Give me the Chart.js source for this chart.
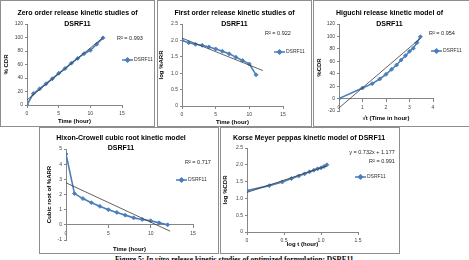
<!DOCTYPE html>
<html>
<head>
<meta charset="utf-8">
<script src="https://cdn.jsdelivr.net/npm/chart.js@4.4.0/dist/chart.umd.min.js"></script>
<style>
  body { margin: 0; width: 469px; height: 260px; overflow: hidden; background: #fff; position: relative; }
  .panel { position: absolute; border: 1px solid #8e8e8e; background: #fff; }
  .panel canvas { display: block; }
  #caption { position: absolute; left: 115px; top: 255px; white-space: nowrap;
             font: bold 7.5px "Liberation Serif", serif; color: #000; }
</style>
</head>
<body>
<div class="panel" style="left:0;top:0"><canvas id="zero" width="153" height="125"></canvas></div>
<div class="panel" style="left:157px;top:0"><canvas id="first" width="153" height="125"></canvas></div>
<div class="panel" style="left:313px;top:0"><canvas id="higuchi" width="155" height="125"></canvas></div>
<div class="panel" style="left:39px;top:127px"><canvas id="hixson" width="178" height="125"></canvas></div>
<div class="panel" style="left:220px;top:127px"><canvas id="korse" width="178" height="125"></canvas></div>
<div id="caption">Figure 5: <i>In vitro</i> release kinetic studies of optimized formulation: DSRF11</div>

<script>
// Data
const seriesName = 'DSRF11';

const hours = [0, 1, 2, 3, 4, 5, 6, 7, 8, 9, 10, 11, 12];
const zeroCdr = [0, 17, 24, 31.5, 39, 47, 54, 62, 69, 76, 81, 90, 99.5];
const zeroTrendX = [0, 12];
const zeroTrendY = [7.5, 100];

const firstHours = [0, 1, 2, 3, 4, 5, 6, 7, 8, 9, 10, 11];
const firstLogArr = [2.0, 1.93, 1.88, 1.85, 1.80, 1.74, 1.67, 1.59, 1.49, 1.39, 1.28, 0.95];
const firstTrendX = [0, 12];
const firstTrendY = [2.07, 1.08];

const rootHours = [0, 1, 1.414, 1.732, 2, 2.236, 2.449, 2.646, 2.828, 3, 3.162, 3.317, 3.464];
const higuchiCdr = [0, 17, 24, 31.5, 39, 47, 54, 62, 69, 76, 81, 90, 99.5];
const higuchiTrendX = [0, 3.464];
const higuchiTrendY = [-15, 97];

const hixsonCubeRoot = [4.67, 2.06, 1.73, 1.46, 1.22, 1.0, 0.82, 0.64, 0.46, 0.35, 0.27, 0.13, 0];
const hixsonTrendX = [0, 12.3];
const hixsonTrendY = [2.77, -0.42];

const logHours = [0, 0.301, 0.477, 0.602, 0.699, 0.778, 0.845, 0.903, 0.954, 1.0, 1.041, 1.079];
const logCdr = [1.23, 1.38, 1.49, 1.59, 1.67, 1.73, 1.79, 1.84, 1.88, 1.91, 1.95, 2.0];
const korseTrendX = [0, 1.079];
const korseTrendY = [1.177, 1.967];

// Tick labels
const hourTicks = [0, 5, 10, 15];
const rootTicks = [0, 1, 2, 3, 4];
const logTimeTicks = [0, 0.5, 1, 1.5];
const cdrTicks = [0, 20, 40, 60, 80, 100, 120];
const cdrTicksNeg = [-20, 0, 20, 40, 60, 80, 100, 120];
const logTicks = [0, 0.5, 1, 1.5, 2, 2.5];
const cubeTicks = [-1, 0, 1, 2, 3, 4, 5];

// Styling
const BLUE = '#4a7ebb';
const NARROW = '"Liberation Sans Narrow", "Liberation Sans", Arial, sans-serif';
const TICK_FONT = { family: NARROW, size: 5 };
const AXIS_TITLE_FONT = { family: NARROW, size: 6, weight: 'bold', lineHeight: '7px' };

const toPoints = (xs, ys) => xs.map((x, i) => ({ x: x, y: ys[i] }));
const fixTicks = values => scale => { scale.ticks = values.map(v => ({ value: v })); };

// R² / equation text and the little legend on the right
const notesPlugin = {
    id: 'notes',
    afterDraw(chart, args, opts) {
        const ctx = chart.ctx;
        ctx.save();
        ctx.fillStyle = '#222';
        ctx.textBaseline = 'middle';
        ctx.font = '5.5px ' + NARROW;
        (opts.texts || []).forEach(t => {
            ctx.textAlign = t.align || 'left';
            ctx.fillText(t.text, t.x, t.y);
        });
        const lg = opts.legend;
        if (lg) {
            ctx.strokeStyle = BLUE;
            ctx.lineWidth = 1.5;
            ctx.beginPath();
            ctx.moveTo(lg.x, lg.y);
            ctx.lineTo(lg.x + 11, lg.y);
            ctx.stroke();
            ctx.fillStyle = BLUE;
            Chart.helpers.drawPoint(ctx, { pointStyle: 'rectRot', radius: 2, borderWidth: 1 }, lg.x + 5.5, lg.y);
            ctx.fillStyle = '#333';
            ctx.textAlign = 'left';
            ctx.font = '5px ' + NARROW;
            ctx.fillText(chart.data.datasets[1].label, lg.x + 12, lg.y);
        }
        ctx.restore();
    }
};

function makeChart(id, cfg) {
    const canvas = document.getElementById(id);
    const W = canvas.width, H = canvas.height;
    const area = cfg.area;
    const onZero = !!cfg.xOnZero;
    const padRight = cfg.titleShift || 0;

    const scales = {
        x: {
            type: 'linear',
            position: onZero ? { y: 0 } : 'bottom',
            min: cfg.xTicks[0],
            max: cfg.xTicks[cfg.xTicks.length - 1],
            afterBuildTicks: fixTicks(cfg.xTicks),
            ticks: { font: TICK_FONT, color: '#404040', padding: 3, maxRotation: 0 },
            grid: { drawOnChartArea: false, tickLength: 3, color: '#868686' },
            border: { color: '#868686' },
            title: {
                display: !onZero, text: cfg.xTitle, font: AXIS_TITLE_FONT, color: '#000',
                padding: { top: 0, bottom: cfg.xTitlePad }
            }
        },
        y: {
            type: 'linear',
            min: cfg.yTicks[0],
            max: cfg.yTicks[cfg.yTicks.length - 1],
            afterBuildTicks: fixTicks(cfg.yTicks),
            ticks: { font: TICK_FONT, color: '#404040', padding: 2 },
            grid: { drawOnChartArea: false, tickLength: 2, color: '#868686' },
            border: { color: '#868686' },
            title: {
                display: true, text: cfg.yTitle, font: AXIS_TITLE_FONT, color: '#000',
                padding: { top: cfg.yTitlePad, bottom: 0 }
            },
            afterFit: s => { s.width = area.left; }
        },
        // empty right-hand axis keeps room for the legend and R² text
        yr: {
            type: 'linear',
            position: 'right',
            ticks: { display: false },
            grid: { display: false, drawTicks: false },
            border: { display: false },
            afterFit: s => { s.width = W - padRight - area.right; }
        }
    };
    if (onZero) {
        // x axis sits on y = 0; an empty axis at the bottom carries the title
        scales.xt = {
            type: 'linear',
            position: 'bottom',
            ticks: { display: false },
            grid: { display: false, drawTicks: false },
            border: { display: false },
            title: {
                display: true, text: cfg.xTitle, font: AXIS_TITLE_FONT, color: '#000',
                padding: { top: 0, bottom: cfg.xTitlePad }
            },
            afterFit: s => { s.height = H - area.bottom; }
        };
    } else {
        scales.x.afterFit = s => { s.height = H - area.bottom; };
    }

    return new Chart(canvas, {
        type: 'scatter',
        data: {
            datasets: [{
                label: 'Linear trend',
                data: toPoints(cfg.trendX, cfg.trendY),
                showLine: true,
                borderColor: '#3a3a3a',
                borderWidth: 0.8,
                pointRadius: 0,
                order: 0
            }, {
                label: seriesName,
                data: toPoints(cfg.xs, cfg.ys),
                showLine: true,
                borderColor: BLUE,
                backgroundColor: BLUE,
                borderWidth: 1.6,
                pointStyle: 'rectRot',
                pointRadius: 2,
                pointBorderWidth: 0.8,
                order: 1
            }]
        },
        options: {
            responsive: false,
            animation: false,
            layout: { padding: { left: 0, top: 0, bottom: 0, right: padRight } },
            scales: scales,
            plugins: {
                legend: { display: false },
                tooltip: { enabled: false },
                title: {
                    display: true,
                    text: cfg.title,
                    color: '#000',
                    font: { family: NARROW, size: 7, weight: 'bold', lineHeight: cfg.titleLine + 'px' },
                    padding: cfg.titlePad
                },
                notes: { texts: cfg.texts, legend: cfg.legend }
            }
        },
        plugins: [notesPlugin]
    });
}

makeChart('zero', {
    title: ['Zero order release kinetic studies of', 'DSRF11'],
    titleLine: 11, titlePad: { top: 7, bottom: -6 },
    area: { left: 26, right: 121, bottom: 104 },
    xs: hours, ys: zeroCdr, trendX: zeroTrendX, trendY: zeroTrendY,
    xTicks: hourTicks, yTicks: cdrTicks,
    xTitle: 'Time (hour)', xTitlePad: 1.5,
    yTitle: '% CDR', yTitlePad: 1.5,
    texts: [{ text: 'R² = 0.993', x: 116, y: 37 }],
    legend: { x: 121, y: 59 }
});

makeChart('first', {
    title: ['First order release kinetic studies of', 'DSRF11'],
    titleLine: 11, titlePad: { top: 7, bottom: -6 },
    area: { left: 24, right: 125, bottom: 105 },
    xs: firstHours, ys: firstLogArr, trendX: firstTrendX, trendY: firstTrendY,
    xTicks: hourTicks, yTicks: logTicks,
    xTitle: 'Time (hour)', xTitlePad: 0.5,
    yTitle: 'log %ARR', yTitlePad: 0,
    texts: [{ text: 'R² = 0.922', x: 107, y: 32 }],
    legend: { x: 116, y: 51 }
});

makeChart('higuchi', {
    title: ['Higuchi release kinetic model of', 'DSRF11'],
    titleLine: 11, titlePad: { top: 7, bottom: -6 }, titleShift: 4,
    area: { left: 25, right: 119, bottom: 110 },
    xOnZero: true,
    xs: rootHours, ys: higuchiCdr, trendX: higuchiTrendX, trendY: higuchiTrendY,
    xTicks: rootTicks, yTicks: cdrTicksNeg,
    xTitle: '√t (Time in hour)', xTitlePad: 4.5,
    yTitle: '%CDR', yTitlePad: 1.5,
    texts: [{ text: 'R² = 0.954', x: 115, y: 32 }],
    legend: { x: 117, y: 50 }
});

makeChart('hixson', {
    title: ['Hixon-Crowell cubic root kinetic model', 'DSRF11'],
    titleLine: 10, titlePad: { top: 5, bottom: -4 }, titleShift: 16,
    area: { left: 26, right: 153, bottom: 112 },
    xOnZero: true,
    xs: hours, ys: hixsonCubeRoot, trendX: hixsonTrendX, trendY: hixsonTrendY,
    xTicks: hourTicks, yTicks: cubeTicks,
    xTitle: 'Time (hour)', xTitlePad: 0.5,
    yTitle: 'Cubic root of %ARR', yTitlePad: 5.5,
    texts: [{ text: 'R² = 0.717', x: 145, y: 34 }],
    legend: { x: 136, y: 52 }
});

makeChart('korse', {
    title: 'Korse Meyer peppas kinetic model of DSRF11',
    titleLine: 10, titlePad: { top: 5, bottom: 5 }, titleShift: 2,
    area: { left: 26, right: 137, bottom: 104 },
    xs: logHours, ys: logCdr, trendX: korseTrendX, trendY: korseTrendY,
    xTicks: logTimeTicks, yTicks: logTicks,
    xTitle: 'log t (hour)', xTitlePad: 5.5,
    yTitle: 'log %CDR', yTitlePad: 0.5,
    texts: [
        { text: 'y = 0.732x + 1.177', x: 151, y: 24, align: 'center' },
        { text: 'R² = 0.991', x: 161, y: 33, align: 'center' }
    ],
    legend: { x: 134, y: 49 }
});
</script>
</body>
</html>
